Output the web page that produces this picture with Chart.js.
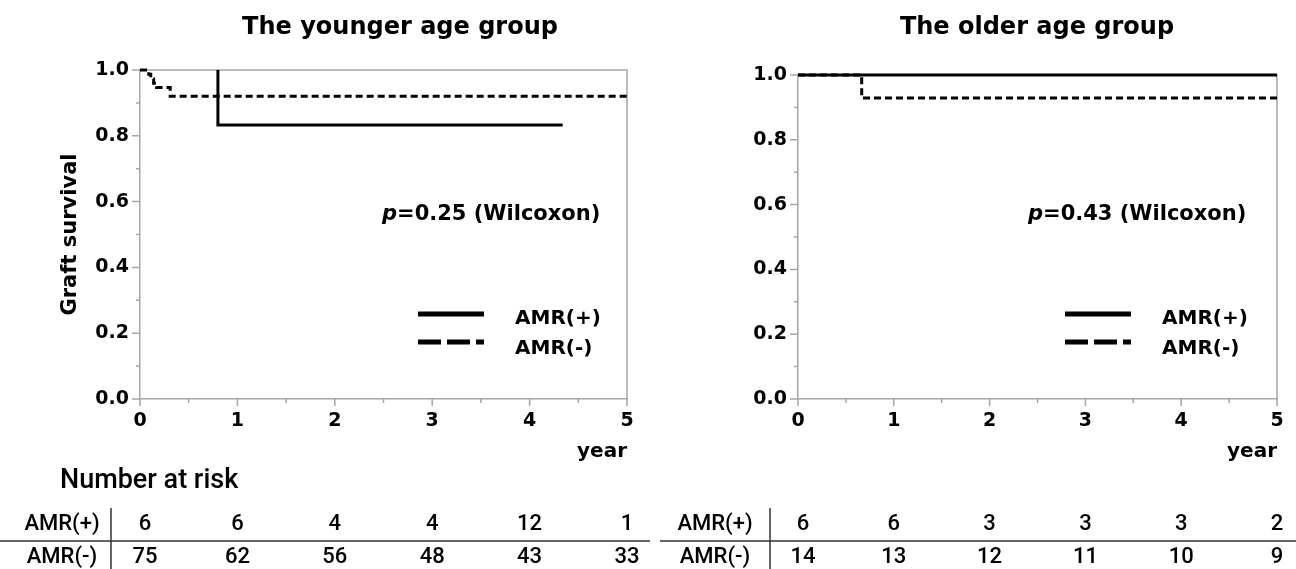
<!DOCTYPE html>
<html><head><meta charset="utf-8">
<script src="https://cdn.jsdelivr.net/npm/chart.js@4"></script>
<style>
html,body{margin:0;padding:0;background:#fff;width:1296px;height:569px;overflow:hidden}
canvas{position:absolute;top:0}
#c1{left:0}
#c2{left:650px}
</style></head><body>
<canvas id="c1" width="650" height="569"></canvas>
<canvas id="c2" width="646" height="569"></canvas>
<script>
// ---- data ----
const xTicks = [0, 1, 2, 3, 4, 5];
const yTicks = [0, 0.2, 0.4, 0.6, 0.8, 1.0];
const groupTitles = ['The younger age group', 'The older age group'];
const pValues = ['0.25', '0.43'];
const seriesNames = ['AMR(+)', 'AMR(-)'];

const youngPosTime = [0.80, 0.80, 4.34];
const youngPosSurv = [1.0, 0.833, 0.833];
const youngNegTime = [0, 0.09, 0.11, 0.14, 0.17, 0.31, 5.0];
const youngNegSurv = [1.0, 0.987, 0.973, 0.96, 0.947, 0.92, 0.92];
const oldPosTime = [0, 5.0];
const oldPosSurv = [1.0, 1.0];
const oldNegTime = [0, 0.665, 5.0];
const oldNegSurv = [1.0, 0.929, 0.929];

const youngAtRiskPos = [6, 6, 4, 4, 12, 1];
const youngAtRiskNeg = [75, 62, 56, 48, 43, 33];
const oldAtRiskPos = [6, 6, 3, 3, 3, 2];
const oldAtRiskNeg = [14, 13, 12, 11, 10, 9];

// ---- helpers ----
const GRAY = '#a6a6a6';
const FONT = '"DejaVu Sans", sans-serif';
const TFONT = 'Roboto, sans-serif';
const pts = (t, s) => t.map((v, i) => ({x: v, y: s[i]}));

const decoPlugin = {
  id: 'deco',
  beforeDatasetsDraw(chart, args, o) {
    const {ctx, chartArea: a, scales: {x, y}} = chart;
    ctx.save();
    ctx.strokeStyle = GRAY; ctx.lineWidth = 1.5;
    ctx.beginPath();
    ctx.moveTo(a.left, a.top); ctx.lineTo(a.right, a.top); ctx.lineTo(a.right, a.bottom);
    for (let k = 0; k <= 10; k++) {
      const py = y.getPixelForValue(k / 10);
      const len = k % 2 === 0 ? 8 : 4;
      ctx.moveTo(a.left - len, py); ctx.lineTo(a.left, py);
    }
    for (let k = 0; k <= 10; k++) {
      const px = x.getPixelForValue(k / 2);
      const len = k % 2 === 0 ? 7 : 4;
      ctx.moveTo(px, a.bottom); ctx.lineTo(px, a.bottom + len);
    }
    ctx.stroke();
    ctx.restore();
  },
  afterDraw(chart, args, o) {
    const {ctx, scales: {x}} = chart;
    ctx.save();
    ctx.fillStyle = '#000';
    // title
    ctx.font = 'bold 24px ' + FONT;
    ctx.textAlign = 'center'; ctx.textBaseline = 'alphabetic';
    ctx.fillText(o.title, o.titleX, 34);
    // p value
    ctx.textAlign = 'left'; ctx.textBaseline = 'middle';
    ctx.font = 'italic bold 21px ' + FONT;
    ctx.fillText('p', o.pX, 215);
    const pw = ctx.measureText('p').width;
    ctx.font = 'bold 21px ' + FONT;
    ctx.fillText('=' + o.p + ' (Wilcoxon)', o.pX + pw, 215);
    // legend
    ctx.strokeStyle = '#000'; ctx.lineWidth = 5;
    ctx.beginPath(); ctx.moveTo(o.legX, 314); ctx.lineTo(o.legX + 66, 314); ctx.stroke();
    ctx.setLineDash([23, 6]);
    ctx.beginPath(); ctx.moveTo(o.legX, 342); ctx.lineTo(o.legX + 66, 342); ctx.stroke();
    ctx.setLineDash([]);
    ctx.font = 'bold 20px ' + FONT;
    ctx.fillText(seriesNames[0], o.legX + 97, 319);
    ctx.fillText(seriesNames[1], o.legX + 97, 349);
    // number at risk table
    if (o.showHeader) {
      ctx.font = '500 27px ' + TFONT;
      ctx.textAlign = 'left';
      ctx.fillText('Number at risk', 60, 481);
    }
    ctx.font = '500 22px ' + TFONT;
    ctx.textAlign = 'center';
    ctx.fillText(seriesNames[0], o.rowLabelX, 524);
    ctx.fillText(seriesNames[1], o.rowLabelX, 557);
    xTicks.forEach((t, i) => {
      const px = x.getPixelForValue(t) + (i === 0 ? 5 : 0);
      ctx.fillText(String(o.risk[0][i]), px, 524);
      ctx.fillText(String(o.risk[1][i]), px, 557);
    });
    ctx.strokeStyle = '#333'; ctx.lineWidth = 1.5;
    ctx.beginPath();
    ctx.moveTo(o.hLine[0], 541); ctx.lineTo(o.hLine[1], 541);
    ctx.moveTo(o.vLineX, 508); ctx.lineTo(o.vLineX, 569);
    ctx.stroke();
    ctx.restore();
  }
};

function makeChart(id, cfg) {
  return new Chart(document.getElementById(id), {
    type: 'line',
    data: {
      datasets: [
        {label: seriesNames[0], data: cfg.pos, borderColor: '#000', borderWidth: 3, stepped: true,
         pointRadius: 0, fill: false, tension: 0, clip: false},
        {label: seriesNames[1], data: cfg.neg, borderColor: '#000', borderWidth: 3, stepped: true,
         borderDash: [7, 4], pointRadius: 0, fill: false, tension: 0, clip: false}
      ]
    },
    options: {
      responsive: false, animation: false, devicePixelRatio: 1,
      layout: {padding: {left: 0, right: cfg.padRight, top: cfg.padTop, bottom: 94}},
      plugins: {
        legend: {display: false}, tooltip: {enabled: false}, title: {display: false},
        deco: cfg.deco
      },
      scales: {
        x: {
          type: 'linear', min: 0, max: 5,
          afterBuildTicks: ax => { ax.ticks = xTicks.map(v => ({value: v})); },
          afterFit: ax => { ax.height = 76; },
          grid: {display: false, drawTicks: false},
          border: {display: true, color: GRAY, width: 1.5},
          ticks: {padding: 11, color: '#000', maxRotation: 0, autoSkip: false,
                  font: {family: FONT, weight: 'bold', size: 19}},
          title: {display: true, text: 'year', align: 'end', color: '#000',
                  font: {family: FONT, weight: 'bold', size: 20}, padding: {top: 0, bottom: 11}}
        },
        y: {
          type: 'linear', min: 0, max: 1,
          afterBuildTicks: ax => { ax.ticks = yTicks.map(v => ({value: v})); },
          afterFit: ax => { ax.width = cfg.axisW; },
          grid: {display: false, drawTicks: false},
          border: {display: true, color: GRAY, width: 1.5},
          ticks: {padding: 11, color: '#000', autoSkip: false, callback: v => v.toFixed(1),
                  font: {family: FONT, weight: 'bold', size: 19}},
          title: {display: cfg.yTitle, text: 'Graft survival', color: '#000',
                  font: {family: FONT, weight: 'bold', size: 21}, padding: {top: 58, bottom: 0}}
        }
      }
    },
    plugins: [decoPlugin]
  });
}

makeChart('c1', {
  pos: pts(youngPosTime, youngPosSurv), neg: pts(youngNegTime, youngNegSurv),
  padRight: 23, padTop: 70, axisW: 140, yTitle: true,
  deco: {title: groupTitles[0], titleX: 400, p: pValues[0], pX: 382, legX: 418,
         showHeader: true, risk: [youngAtRiskPos, youngAtRiskNeg], rowLabelX: 62,
         hLine: [0, 650], vLineX: 111}
});
makeChart('c2', {
  pos: pts(oldPosTime, oldPosSurv), neg: pts(oldNegTime, oldNegSurv),
  padRight: 19, padTop: 75, axisW: 148, yTitle: false,
  deco: {title: groupTitles[1], titleX: 387, p: pValues[1], pX: 378, legX: 415,
         showHeader: false, risk: [oldAtRiskPos, oldAtRiskNeg], rowLabelX: 65,
         hLine: [10, 646], vLineX: 120}
});
</script>
</body></html>
